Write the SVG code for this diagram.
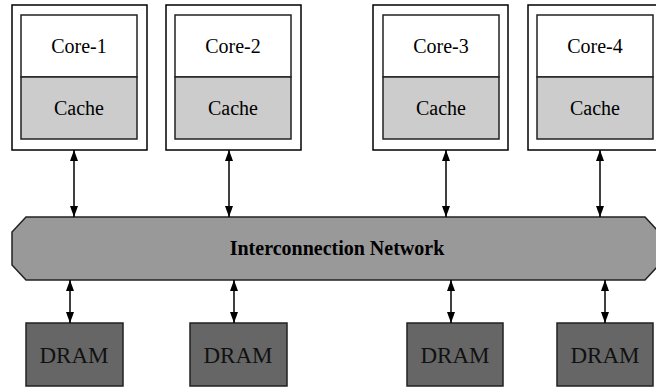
<svg xmlns="http://www.w3.org/2000/svg" width="656" height="390" viewBox="0 0 656 390">
<style>
.outer{fill:#fff;stroke:#000;stroke-width:1.5}
.core{fill:#fff;stroke:#222;stroke-width:1.5}
.cache{fill:#cccccc;stroke:#222;stroke-width:1.5}
.net{fill:#999999;stroke:#222;stroke-width:1.5}
.dram{fill:#666666;stroke:#222;stroke-width:1.5}
.t{font-family:"Liberation Serif",serif;font-size:20px;fill:#000;text-anchor:middle}
.td{font-family:"Liberation Serif",serif;font-size:23px;fill:#111;text-anchor:middle}
.tb{font-family:"Liberation Serif",serif;font-size:20px;font-weight:bold;fill:#000;text-anchor:middle}
.c{stroke:#000;stroke-width:1.5;fill:none;marker-start:url(#a);marker-end:url(#a)}
</style>
<defs>
<marker id="a" viewBox="0 0 11 8" refX="11" refY="4" markerWidth="11" markerHeight="8" orient="auto-start-reverse" markerUnits="userSpaceOnUse">
<path d="M0,0L11,4L0,8Z" fill="#000"/>
</marker>
</defs>
<g id="core1">
<rect class="outer" x="12" y="5" width="135" height="145"/>
<rect class="core" x="21" y="15" width="116" height="62"/>
<rect class="cache" x="21" y="77" width="116" height="62"/>
<text class="t" x="79" y="53">Core-1</text>
<text class="t" x="79" y="115">Cache</text>
</g>
<g id="core2">
<rect class="outer" x="166" y="5" width="135" height="145"/>
<rect class="core" x="175" y="15" width="116" height="62"/>
<rect class="cache" x="175" y="77" width="116" height="62"/>
<text class="t" x="233" y="53">Core-2</text>
<text class="t" x="233" y="115">Cache</text>
</g>
<g id="core3">
<rect class="outer" x="373" y="5" width="135" height="145"/>
<rect class="core" x="383" y="15" width="116" height="62"/>
<rect class="cache" x="383" y="77" width="116" height="62"/>
<text class="t" x="441" y="53">Core-3</text>
<text class="t" x="441" y="115">Cache</text>
</g>
<g id="core4">
<rect class="outer" x="528" y="5" width="135" height="145"/>
<rect class="core" x="537" y="15" width="116" height="62"/>
<rect class="cache" x="537" y="77" width="116" height="62"/>
<text class="t" x="595" y="53">Core-4</text>
<text class="t" x="595" y="115">Cache</text>
</g>
<g id="network">
<polygon class="net" points="26,217 645,217 659,232 659,265 645,280 26,280 12,265 12,232"/>
<text class="tb" x="337" y="255">Interconnection Network</text>
</g>
<g id="dram1">
<rect class="dram" x="26" y="323" width="97" height="63"/>
<text class="td" x="74" y="363">DRAM</text>
</g>
<g id="dram2">
<rect class="dram" x="190" y="323" width="97" height="63"/>
<text class="td" x="238" y="363">DRAM</text>
</g>
<g id="dram3">
<rect class="dram" x="407" y="323" width="96" height="63"/>
<text class="td" x="455" y="363">DRAM</text>
</g>
<g id="dram4">
<rect class="dram" x="557" y="323" width="96" height="63"/>
<text class="td" x="605" y="363">DRAM</text>
</g>
<g id="connectors">
<line class="c" x1="74" y1="150" x2="74" y2="217"/>
<line class="c" x1="229" y1="150" x2="229" y2="217"/>
<line class="c" x1="446" y1="150" x2="446" y2="217"/>
<line class="c" x1="600" y1="150" x2="600" y2="217"/>
<line class="c" x1="70" y1="280" x2="70" y2="323"/>
<line class="c" x1="234" y1="280" x2="234" y2="323"/>
<line class="c" x1="451" y1="280" x2="451" y2="323"/>
<line class="c" x1="605" y1="280" x2="605" y2="323"/>
</g>
</svg>
